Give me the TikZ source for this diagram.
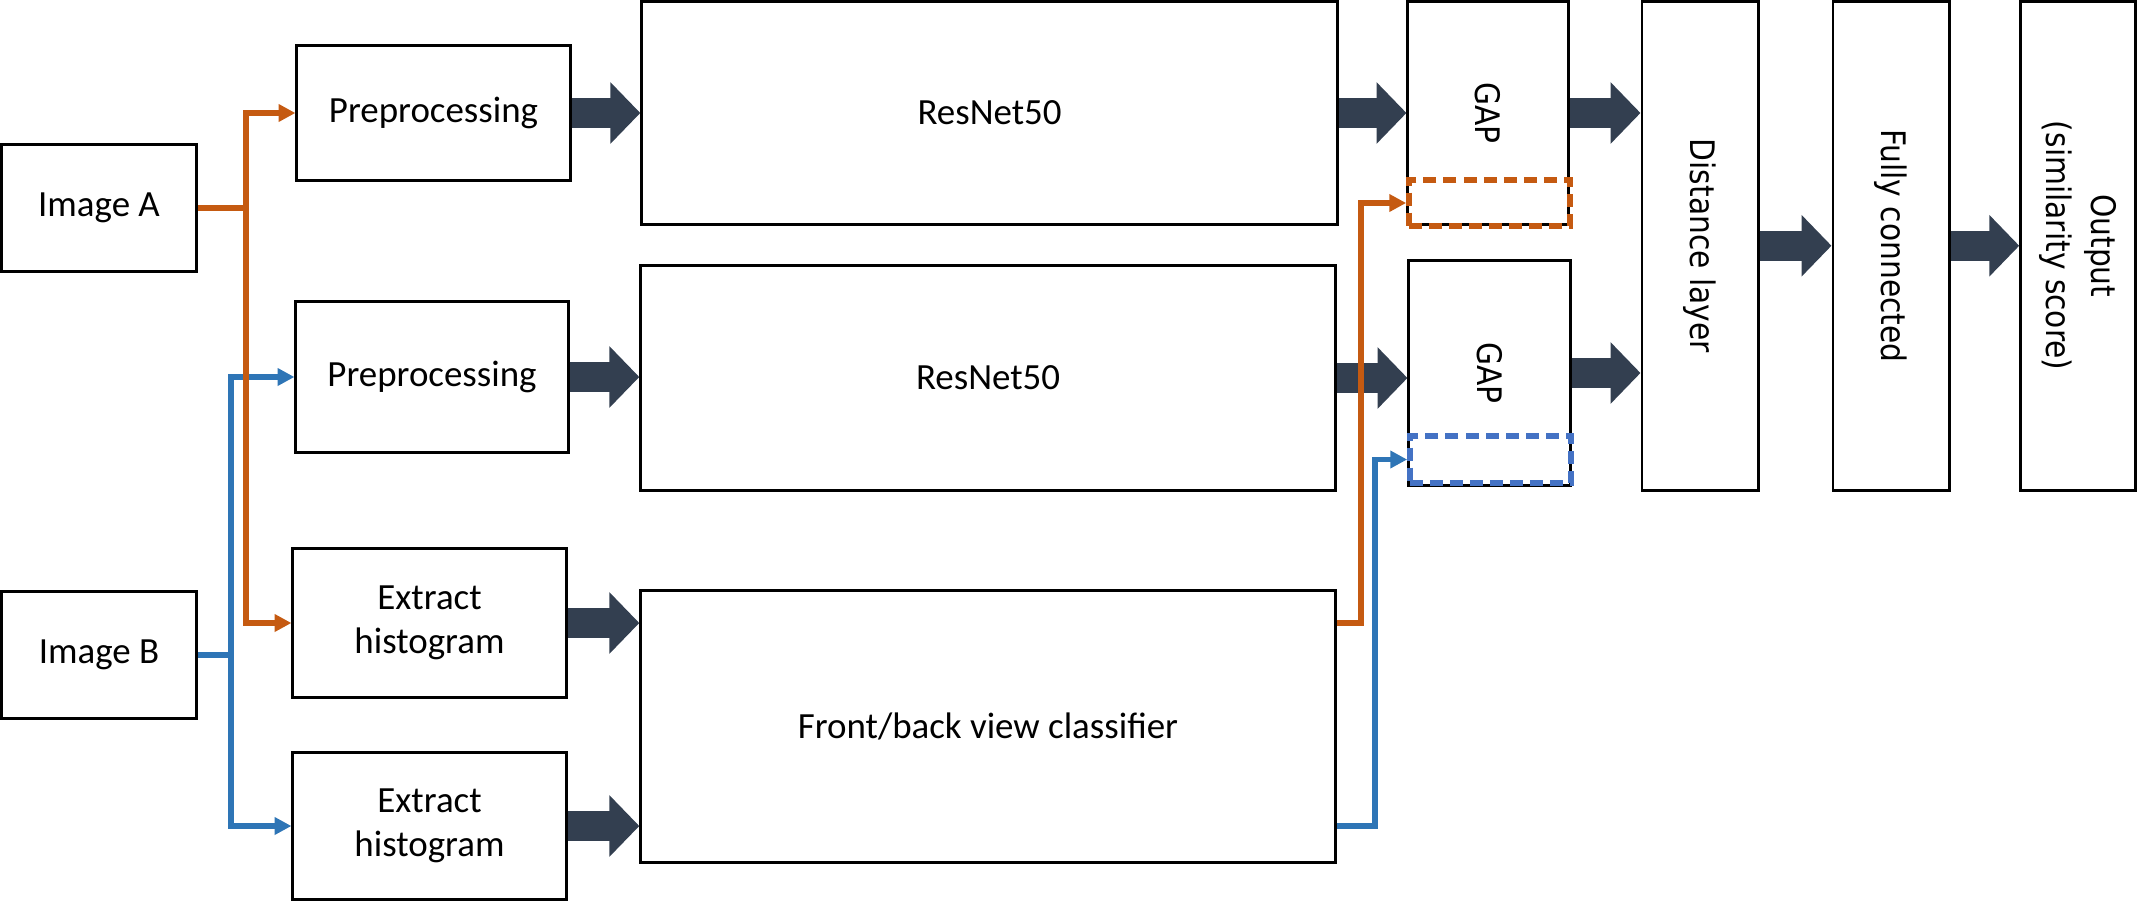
\documentclass[tikz,border=0pt]{standalone}
\usepackage{fontspec}
\setmainfont{Carlito}
\newfontfamily\vfont[FakeStretch=0.88]{DejaVu Sans}
\usetikzlibrary{arrows.meta,calc}

\definecolor{orangec}{HTML}{C55A11}
\definecolor{bluec}{HTML}{2E75B6}
\definecolor{dashblue}{HTML}{4472C4}
\definecolor{fatc}{HTML}{333F50}

\begin{document}
\begin{tikzpicture}[x=0.01cm,y=-0.01cm,
  box/.style={draw, line width=0.85pt, align=center, inner sep=0pt,
    font=\fontsize{10.5}{12.6}\selectfont},
  vbox/.style={draw, line width=0.85pt, inner sep=0pt,
    font=\vfont\fontsize{9.6}{13}\selectfont},
  fat/.style={draw=fatc, line width=8.5pt, -{Triangle[length=8.5pt,width=17pt]}},
  oline/.style={draw=orangec, line width=1.7pt, -{Triangle[length=4.8pt,width=4.8pt]}},
  bline/.style={draw=bluec, line width=1.7pt, -{Triangle[length=4.8pt,width=4.8pt]}},
  dashbox/.style={line width=1.6pt, dash pattern=on 3.7pt off 2pt, inner sep=0pt}]
\useasboundingbox (0,0) rectangle (2137,900);

% inputs
\node[box, minimum width=1.955cm, minimum height=1.26cm] (imgA) at (99,208) {Image A};
\node[box, minimum width=1.955cm, minimum height=1.26cm] (imgB) at (99,655) {Image B};

% preprocessing and histograms
\node[box, minimum width=2.73cm, minimum height=1.34cm] (pre1) at (433.5,113) {Preprocessing};
\node[box, minimum width=2.72cm, minimum height=1.50cm] (pre2) at (432,377) {Preprocessing};
\node[box, minimum width=2.73cm, minimum height=1.48cm] (hist1) at (429.5,623) {Extract\\histogram};
\node[box, minimum width=2.73cm, minimum height=1.46cm] (hist2) at (429.5,826) {Extract\\histogram};

% networks
\node[box, minimum width=6.95cm, minimum height=2.235cm] (res1) at (989.5,113) {ResNet50};
\node[box, minimum width=6.94cm, minimum height=2.24cm] (res2) at (988,378) {ResNet50};
\node[box, minimum width=6.94cm, minimum height=2.71cm] (cls) at (988,726.5) {Front/back view classifier};

% pooling
\node[vbox, minimum width=1.60cm, minimum height=2.235cm] (gap1) at (1488,113) {\rotatebox{-90}{GAP}};
\node[vbox, minimum width=1.61cm, minimum height=2.24cm] (gap2) at (1489.5,373) {\rotatebox{-90}{GAP}};
\node[dashbox, draw=orangec, minimum width=1.61cm, minimum height=0.46cm] (dash1) at (1489.5,203) {};
\node[dashbox, draw=dashblue, minimum width=1.61cm, minimum height=0.47cm] (dash2) at (1490.5,459.5) {};

% head
\node[vbox, minimum width=1.16cm, minimum height=4.885cm] (dist) at (1700,245.75) {\rotatebox{-90}{Distance layer}};
\node[vbox, minimum width=1.16cm, minimum height=4.885cm] (fc) at (1891,245.75) {\rotatebox{-90}{Fully connected}};
\node[vbox, minimum width=1.145cm, minimum height=4.885cm] (out) at (2078,245.75)
  {\rotatebox{-90}{\begin{tabular}{@{}c@{}}Output\\(similarity score)\end{tabular}}};

% block arrows
\draw[fat] (pre1.east) -- (res1.west);
\draw[fat] (pre2.east) -- (pre2.east -| res2.west);
\draw[fat] (hist1.east) -- (hist1.east -| cls.west);
\draw[fat] (hist2.east) -- (hist2.east -| cls.west);
\draw[fat] (res1.east) -- (gap1.west);
\draw[fat] (res2.east) -- (res2.east -| gap2.west);
\draw[fat] (gap1.east) -- (gap1.east -| dist.west);
\draw[fat] (gap2.east) -- (gap2.east -| dist.west);
\draw[fat] (dist.east) -- (fc.west);
\draw[fat] (fc.east) -- (out.west);

% image branches
\draw[bline] (imgB.east) -- ++(33,0) |- (pre2.west);
\draw[bline] (imgB.east) -- ++(33,0) |- (hist2.west);
\draw[oline] (imgA.east) -- ++(48,0) |- (pre1.west);
\draw[oline] (imgA.east) -- ++(48,0) |- (hist1.west);

% classifier outputs
\draw[oline] (cls.east |- hist1.east) -- ++(24,0) |- (dash1.west);
\draw[bline] (cls.east |- hist2.east) -- ++(38,0) |- (dash2.west);
\end{tikzpicture}
\end{document}
